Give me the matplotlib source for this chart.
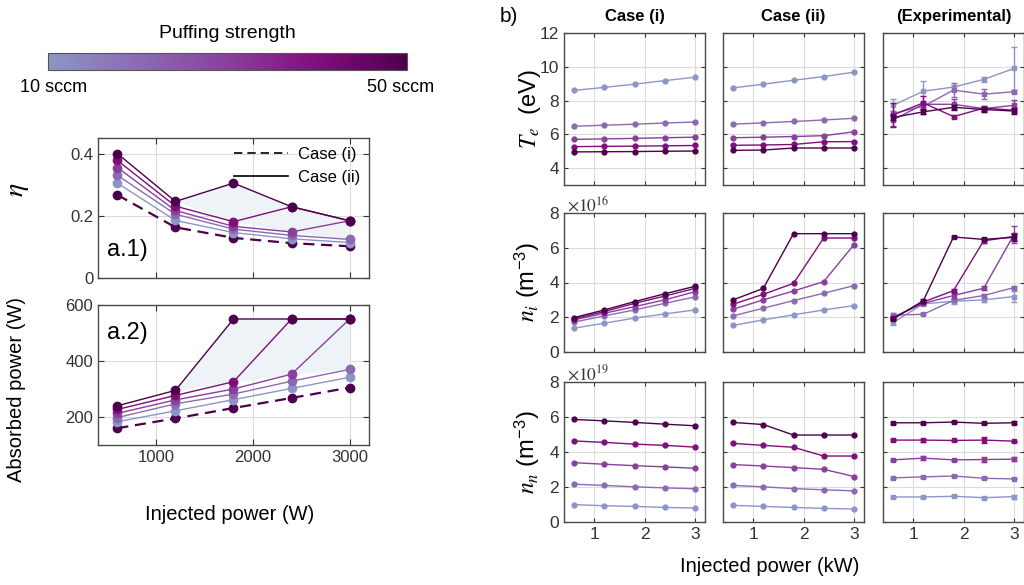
import numpy as np
import matplotlib
matplotlib.use("Agg")
import matplotlib.pyplot as plt
from matplotlib.colors import LinearSegmentedColormap, Normalize
from matplotlib.colorbar import ColorbarBase
from matplotlib.lines import Line2D

plt.rcParams['font.family'] = ['Liberation Sans', 'DejaVu Sans']
plt.rcParams['mathtext.fontset'] = 'stix'

# ---------------- data ----------------
puff_sccm = [10, 20, 30, 40, 50]
p_inj_W = [600, 1200, 1800, 2400, 3000]
p_inj_kW = [0.6, 1.2, 1.8, 2.4, 3.0]

# a.1 coupling efficiency
eta_case1 = [0.267, 0.163, 0.129, 0.112, 0.102]
eta_case2 = [
    [0.305, 0.185, 0.146, 0.126, 0.114],
    [0.330, 0.205, 0.157, 0.137, 0.124],
    [0.355, 0.217, 0.166, 0.148, 0.184],
    [0.378, 0.231, 0.181, 0.229, 0.184],
    [0.400, 0.246, 0.305, 0.229, 0.184],
]
eta_fill_low = [0.246, 0.181, 0.148, 0.124]   # lower edge of shaded area (1200..3000 W)

# a.2 absorbed power
pabs_case1 = [160, 195, 232, 268, 305]
pabs_case2 = [
    [183, 222, 262, 302, 342],
    [198, 247, 282, 328, 370],
    [213, 261, 300, 353, 550],
    [227, 277, 326, 550, 550],
    [240, 295, 550, 550, 550],
]
pabs_fill_low = [295, 326, 353, 370]

# b) Te (eV)
te_case1 = [
    [8.60, 8.78, 8.97, 9.18, 9.38],
    [6.48, 6.54, 6.60, 6.67, 6.73],
    [5.70, 5.73, 5.76, 5.80, 5.83],
    [5.27, 5.29, 5.30, 5.32, 5.34],
    [4.96, 4.97, 4.98, 5.00, 5.01],
]
te_case2 = [
    [8.75, 8.97, 9.20, 9.42, 9.68],
    [6.60, 6.68, 6.76, 6.85, 6.95],
    [5.80, 5.83, 5.87, 5.92, 6.15],
    [5.35, 5.37, 5.40, 5.56, 5.57],
    [5.05, 5.07, 5.19, 5.19, 5.19],
]
te_exp = [
    [7.72, 8.55, 8.80, 9.25, 9.90],
    [7.23, 7.66, 8.62, 8.38, 8.52],
    [6.85, 7.78, 7.78, 7.52, 7.72],
    [7.15, 7.86, 7.05, 7.55, 7.43],
    [7.00, 7.33, 7.60, 7.47, 7.38],
]
te_exp_err = [
    [0.35, 0.60, 0.15, 0.15, 1.30],
    [0.15, 0.15, 0.40, 0.30, 0.10],
    [0.35, 0.15, 0.30, 0.10, 0.30],
    [0.70, 0.40, 0.10, 0.15, 0.10],
    [0.15, 0.15, 0.15, 0.15, 0.15],
]

# b) ni (1e16 m^-3)
ni_case1 = [
    [1.37, 1.66, 1.95, 2.19, 2.42],
    [1.72, 2.08, 2.42, 2.80, 3.17],
    [1.85, 2.23, 2.61, 3.00, 3.47],
    [1.91, 2.33, 2.80, 3.22, 3.66],
    [1.98, 2.42, 2.90, 3.35, 3.78],
]
ni_case2 = [
    [1.53, 1.85, 2.14, 2.42, 2.67],
    [2.08, 2.52, 2.96, 3.38, 3.82],
    [2.46, 3.00, 3.51, 4.05, 6.18],
    [2.75, 3.32, 3.95, 6.56, 6.56],
    [3.00, 3.66, 6.81, 6.81, 6.81],
]
ni_exp = [
    [1.70, 2.77, 2.92, 3.00, 3.19],
    [2.12, 2.17, 2.97, 3.25, 3.71],
    [2.00, 2.80, 3.25, 3.67, 6.75],
    [1.95, 2.88, 3.53, 6.40, 6.65],
    [1.90, 2.95, 6.62, 6.48, 6.60],
]
ni_exp_err = [
    [0.15, 0.08, 0.15, 0.10, 0.30],
    [0.10, 0.05, 0.10, 0.10, 0.08],
    [0.10, 0.08, 0.15, 0.10, 0.50],
    [0.08, 0.08, 0.08, 0.10, 0.20],
    [0.08, 0.08, 0.05, 0.10, 0.20],
]

# b) nn (1e19 m^-3)
nn_case1 = [
    [0.99, 0.93, 0.89, 0.83, 0.80],
    [2.16, 2.09, 2.01, 1.95, 1.90],
    [3.39, 3.30, 3.22, 3.15, 3.07],
    [4.63, 4.55, 4.45, 4.38, 4.28],
    [5.86, 5.78, 5.69, 5.59, 5.50],
]
nn_case2 = [
    [0.95, 0.89, 0.83, 0.78, 0.74],
    [2.09, 2.01, 1.91, 1.84, 1.78],
    [3.28, 3.20, 3.11, 3.01, 2.60],
    [4.49, 4.38, 4.27, 3.77, 3.77],
    [5.69, 5.57, 4.97, 4.97, 4.97],
]
nn_exp = [
    [1.43, 1.43, 1.47, 1.39, 1.45],
    [2.52, 2.58, 2.63, 2.50, 2.46],
    [3.55, 3.65, 3.55, 3.57, 3.59],
    [4.68, 4.68, 4.66, 4.68, 4.62],
    [5.67, 5.67, 5.71, 5.64, 5.67],
]
nn_exp_err = [
    [0.05, 0.08, 0.05, 0.03, 0.12],
    [0.05, 0.05, 0.08, 0.05, 0.03],
    [0.05, 0.12, 0.05, 0.12, 0.12],
    [0.05, 0.08, 0.05, 0.15, 0.03],
    [0.05, 0.05, 0.08, 0.05, 0.08],
]

# ---------------- style ----------------
base = plt.get_cmap('BuPu')
cmap = LinearSegmentedColormap.from_list('puff', base(np.linspace(0.5, 1.0, 256)))
colors = [cmap(v) for v in np.linspace(0, 1, len(puff_sccm))]
dark = colors[-1]
fill_col = '#eef3f8'
grid_col = '#dcdcdc'
spine_col = '#4a4a4a'

W, H = 1024, 585
fig = plt.figure(figsize=(W / 100, H / 100), dpi=100)


def px_axes(l, t, r, b):
    return fig.add_axes([l / W, (H - b) / H, (r - l) / W, (b - t) / H])


def style(ax, fs=12):
    ax.grid(True, color=grid_col, lw=0.8)
    ax.set_axisbelow(True)
    ax.tick_params(direction='in', top=True, right=True, length=4,
                   labelsize=fs, colors='#333333', width=0.8)
    for s in ax.spines.values():
        s.set_color(spine_col)
        s.set_linewidth(1.0)


# ---------------- colorbar ----------------
cax = px_axes(48, 53, 407, 70)
cb = ColorbarBase(cax, cmap=cmap, norm=Normalize(10, 50), orientation='horizontal')
cb.set_ticks([])
cb.outline.set_edgecolor('#555555')
cb.outline.set_linewidth(0.8)
fig.text(227 / W, 1 - 33 / H, 'Puffing strength', ha='center', va='center', fontsize=14)
fig.text(20 / W, 1 - 88 / H, f'{puff_sccm[0]} sccm', ha='left', va='center', fontsize=13)
fig.text(434 / W, 1 - 88 / H, f'{puff_sccm[-1]} sccm', ha='right', va='center', fontsize=13)

# ---------------- a.1 ----------------
ax1 = px_axes(98, 138, 369, 278)
style(ax1)
ax1.fill_between(p_inj_W[1:], eta_case2[-1][1:], eta_fill_low, color=fill_col, lw=0, zorder=1)
for i, ys in enumerate(eta_case2):
    ax1.plot(p_inj_W, ys, '-o', color=colors[i], lw=1.0, ms=6, zorder=3 + i)
ax1.plot(p_inj_W, eta_case1, 'o', color=dark, ms=6, zorder=2, ls=(0, (5, 3)), lw=1.6)
ax1.set_xlim(400, 3200)
ax1.set_ylim(0, 0.45)
ax1.set_xticks([1000, 2000, 3000])
ax1.set_xticklabels([])
ax1.set_yticks([0, 0.2, 0.4])
ax1.set_yticklabels(['0', '0.2', '0.4'])
ax1.text(0.035, 0.2, 'a.1)', transform=ax1.transAxes, fontsize=17, va='center', ha='left')
leg = ax1.legend([Line2D([], [], color='k', ls=(0, (5, 3)), lw=1.2),
                  Line2D([], [], color='k', ls='-', lw=1.2)],
                 ['Case (i)', 'Case (ii)'], loc='upper right', frameon=False,
                 fontsize=12, handlelength=3.2, borderaxespad=0.15, labelspacing=0.45,
                 handletextpad=0.6)
fig.text(18 / W, 1 - 190 / H, r'$\eta$', rotation=90, ha='center', va='center', fontsize=20)

# ---------------- a.2 ----------------
ax2 = px_axes(98, 305, 369, 445)
style(ax2)
ax2.fill_between(p_inj_W[1:], pabs_case2[-1][1:], pabs_fill_low, color=fill_col, lw=0, zorder=1)
for i, ys in enumerate(pabs_case2):
    ax2.plot(p_inj_W, ys, '-o', color=colors[i], lw=1.0, ms=6, zorder=3 + i)
ax2.plot(p_inj_W, pabs_case1, 'o', color=dark, ms=6, zorder=2, ls=(0, (5, 3)), lw=1.6)
ax2.set_xlim(400, 3200)
ax2.set_ylim(100, 600)
ax2.set_xticks([1000, 2000, 3000])
ax2.set_yticks([200, 400, 600])
ax2.text(0.035, 0.8, 'a.2)', transform=ax2.transAxes, fontsize=17, va='center', ha='left')
fig.text(17 / W, 1 - 390 / H, 'Absorbed power (W)', rotation=90, ha='center', va='center', fontsize=14.5)
fig.text(230 / W, 1 - 515 / H, 'Injected power (W)', ha='center', va='center', fontsize=14.5)

# ---------------- b ----------------
col_left = [564, 723, 883]
col_w = 141
row_tb = [(33, 185), (213, 352), (382, 522)]
rows = [
    (te_case1, te_case2, te_exp, te_exp_err, (3, 12), [4, 6, 8, 10, 12]),
    (ni_case1, ni_case2, ni_exp, ni_exp_err, (0, 8), [0, 2, 4, 6, 8]),
    (nn_case1, nn_case2, nn_exp, nn_exp_err, (0, 8), [0, 2, 4, 6, 8]),
]
for r, (c1, c2, ex, exerr, ylim, yt) in enumerate(rows):
    t, b = row_tb[r]
    for c in range(3):
        ax = px_axes(col_left[c], t, col_left[c] + col_w, b)
        style(ax, fs=12.5)
        ax.tick_params(length=3)
        if c < 2:
            data = c1 if c == 0 else c2
            for i, ys in enumerate(data):
                ax.plot(p_inj_kW, ys, '-o', color=colors[i], lw=1.0, ms=3.5, zorder=3 + i)
        else:
            for i, ys in enumerate(ex):
                ax.errorbar(p_inj_kW, ys, yerr=exerr[i], color=colors[i], lw=1.0,
                            marker='s', ms=3, capsize=2.5, elinewidth=1.0,
                            capthick=1.0, zorder=3 + i)
        ax.set_xlim(0.4, 3.2)
        ax.set_ylim(*ylim)
        ax.set_xticks([1, 2, 3])
        ax.set_yticks(yt)
        if r < 2:
            ax.set_xticklabels([])
        if c > 0:
            ax.set_yticklabels([])

fig.text(500 / W, 1 - 16 / H, 'b)', ha='left', va='center', fontsize=15)
for c, title in enumerate(['Case (i)', 'Case (ii)', '(Experimental)']):
    fig.text((col_left[c] + col_w / 2) / W, 1 - 16 / H, title, ha='center', va='center',
             fontsize=12, fontweight='bold')
fig.text(567 / W, 1 - 204 / H, r'$\times10^{16}$', ha='left', va='center', fontsize=12.5, color='#333333')
fig.text(567 / W, 1 - 373 / H, r'$\times10^{19}$', ha='left', va='center', fontsize=12.5, color='#333333')
fig.text(530 / W, 1 - 109 / H, r'$T_e$  (eV)', rotation=90, ha='center', va='center', fontsize=17)
fig.text(527 / W, 1 - 282 / H, r'$n_i$ (m$^{\mathregular{-3}}$)', rotation=90, ha='center', va='center', fontsize=17)
fig.text(527 / W, 1 - 452 / H, r'$n_n$ (m$^{\mathregular{-3}}$)', rotation=90, ha='center', va='center', fontsize=17)
fig.text(770 / W, 1 - 567 / H, 'Injected power (kW)', ha='center', va='center', fontsize=14.5)

fig.savefig('out.png', dpi=100)
